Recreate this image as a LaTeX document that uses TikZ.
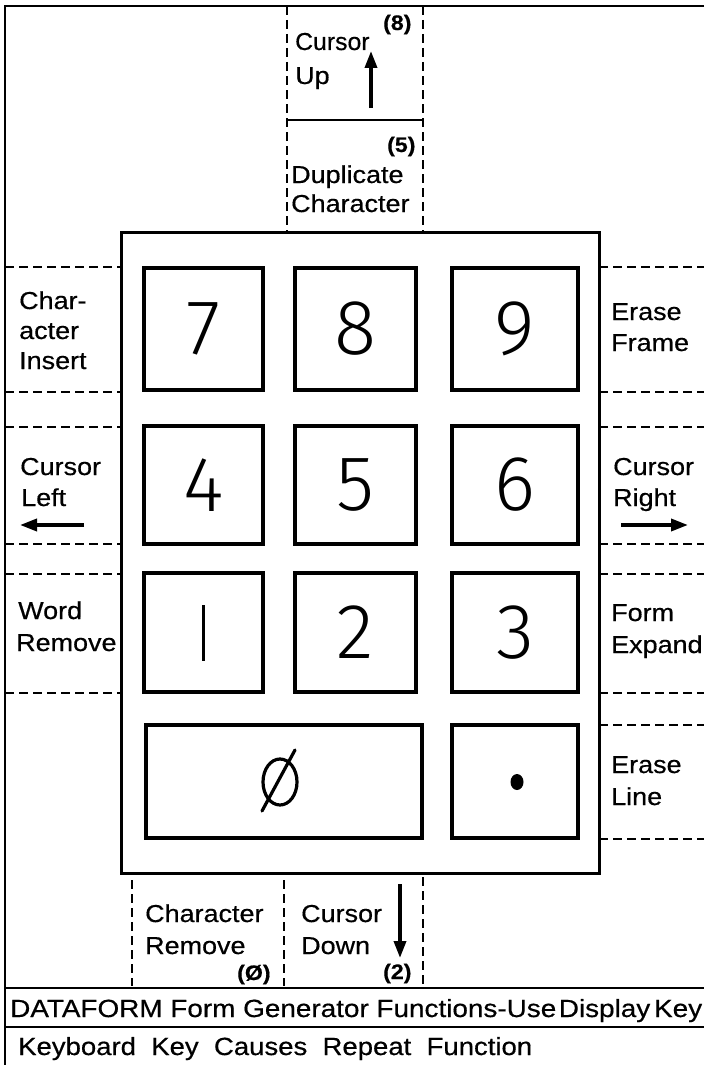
\documentclass[tikz,border=0pt]{standalone}
\usepackage{fontspec}
\setmainfont{Liberation Sans}[FakeBold=0.5,FakeStretch=1.1]
\newfontfamily\digitfont{Fira Sans}[UprightFont={* Light}]
\usetikzlibrary{arrows.meta}
\begin{document}
\begin{tikzpicture}[x=1pt,y=-1pt,
  frameline/.style={line width=2.8pt},
  dashline/.style={line width=2.3pt,dash pattern=on 9pt off 5pt},
  keybox/.style={draw,line width=3.2pt,inner sep=0pt,font=\digitfont\fontsize{78}{78}\selectfont},
  lbl/.style={anchor=base west,inner sep=0pt,font=\fontsize{24.5}{28}\selectfont},
  num/.style={anchor=base west,inner sep=0pt,font=\bfseries\fontsize{21}{24}\selectfont},
  arr/.style={line width=3.6pt,-{Triangle[length=17pt,width=12pt]}}]
\useasboundingbox (0,0) rectangle (704,1065);
% outer frame
\draw[frameline] (704,6) -- (5,6) -- (5,1065);
% keypad body
\node[draw,line width=3pt,minimum width=478pt,minimum height=641pt,inner sep=0pt] (pad) at (360,553) {};
% keys
\node[keybox,minimum width=119pt,minimum height=122pt] (k7) at (203.5,329) {7};
\node[keybox,minimum width=121pt,minimum height=122pt] (k8) at (355.5,329) {8};
\node[keybox,minimum width=126pt,minimum height=122pt] (k9) at (515,329) {9};
\node[keybox,minimum width=119pt,minimum height=118pt] (k4) at (203.5,485) {4};
\node[keybox,minimum width=121pt,minimum height=118pt] (k5) at (355.5,485) {5};
\node[keybox,minimum width=126pt,minimum height=118pt] (k6) at (515,485) {6};
\node[keybox,minimum width=119pt,minimum height=119pt] (k1) at (203.5,632.5) {\rule{3pt}{56pt}};
\node[keybox,minimum width=121pt,minimum height=119pt] (k2) at (355.5,632.5) {2};
\node[keybox,minimum width=126pt,minimum height=119pt] (k3) at (515,632.5) {3};
\node[keybox,minimum width=276pt,minimum height=113pt] (k0) at (284,781.5) {};
\node[keybox,minimum width=126pt,minimum height=113pt] (kd) at (515,781.5) {};
% zero glyph and dot
\draw[line width=3.2pt] (280,782) ellipse [x radius=17pt,y radius=23pt];
\draw[line width=3.2pt,line cap=round] (262,811) -- (295,750);
\fill (517,782) ellipse [x radius=6.5pt,y radius=8pt];
% top column
\draw[dashline] (287,6) -- (287,233);
\draw[dashline] (423,6) -- (423,233);
\draw[frameline] (287,120) -- (423,120);
\node[lbl] (cu1) at (295,50) {\scalebox{0.92}[1]{Cursor}};
\node[lbl] (cu2) at (295,84) {Up};
\node[num] (n8) at (383,30) {(8)};
\coordinate (upA) at (371,108);
\coordinate (upB) at (371,51);
\draw[arr] (upA) -- (upB);
\node[num] (n5) at (387,152) {(5)};
\node[lbl] (dc1) at (291,183) {Duplicate};
\node[lbl] (dc2) at (291,212) {Character};
% left side dashed lines
\foreach \y in {267,392,427,544,574,693} \draw[dashline] (5,\y) -- (121,\y);
% right side dashed lines
\foreach \y in {267,392,427,544,574,693,725,839} \draw[dashline] (599,\y) -- (704,\y);
% left labels
\node[lbl] (ci1) at (19,309) {Char-};
\node[lbl] (ci2) at (19,339) {acter};
\node[lbl] (ci3) at (19,369) {Insert};
\node[lbl] (cl1) at (20,475) {Cursor};
\node[lbl] (cl2) at (21,506) {Left};
\coordinate (lA) at (84,525);
\coordinate (lB) at (20,525);
\draw[arr] (lA) -- (lB);
\node[lbl] (wr1) at (18,619) {Word};
\node[lbl] (wr2) at (16,651) {Remove};
% right labels
\node[lbl] (ef1) at (611,320) {Erase};
\node[lbl] (ef2) at (611,351) {Frame};
\node[lbl] (cr1) at (613,475) {Cursor};
\node[lbl] (cr2) at (613,506) {Right};
\coordinate (rA) at (621,525);
\coordinate (rB) at (688,525);
\draw[arr] (rA) -- (rB);
\node[lbl] (fe1) at (611,621) {Form};
\node[lbl] (fe2) at (611,653) {Expand};
\node[lbl] (el1) at (611,773) {Erase};
\node[lbl] (el2) at (611,805) {Line};
% bottom columns
\draw[dashline] (132,880) -- (132,986);
\draw[dashline] (284,880) -- (284,986);
\draw[dashline] (423,877) -- (423,988);
\node[lbl] (cm1) at (145,922) {Character};
\node[lbl] (cm2) at (145,954) {Remove};
\node[num] (n0) at (237,980) {(Ø)};
\node[lbl] (cd1) at (301,922) {Cursor};
\node[lbl] (cd2) at (301,954) {Down};
\coordinate (dA) at (400,884);
\coordinate (dB) at (400,958);
\draw[arr] (dA) -- (dB);
\node[num] (n2) at (383,979) {(2)};
% captions
\draw[frameline] (5,988) -- (704,988);
\draw[frameline] (5,1027) -- (704,1027);
\node[anchor=base west,inner sep=0pt] (cap1) at (10,1017) {\resizebox{692pt}{18pt}{DATAFORM Form Generator Functions-Use\hspace{0.1em}Display\hspace{0.15em}Key}};
\node[anchor=base west,inner sep=0pt] (cap2) at (18,1055) {\resizebox{514pt}{18pt}{Keyboard\ \ Key\ \ Causes\ \ Repeat\ \ Function}};
\end{tikzpicture}
\end{document}
